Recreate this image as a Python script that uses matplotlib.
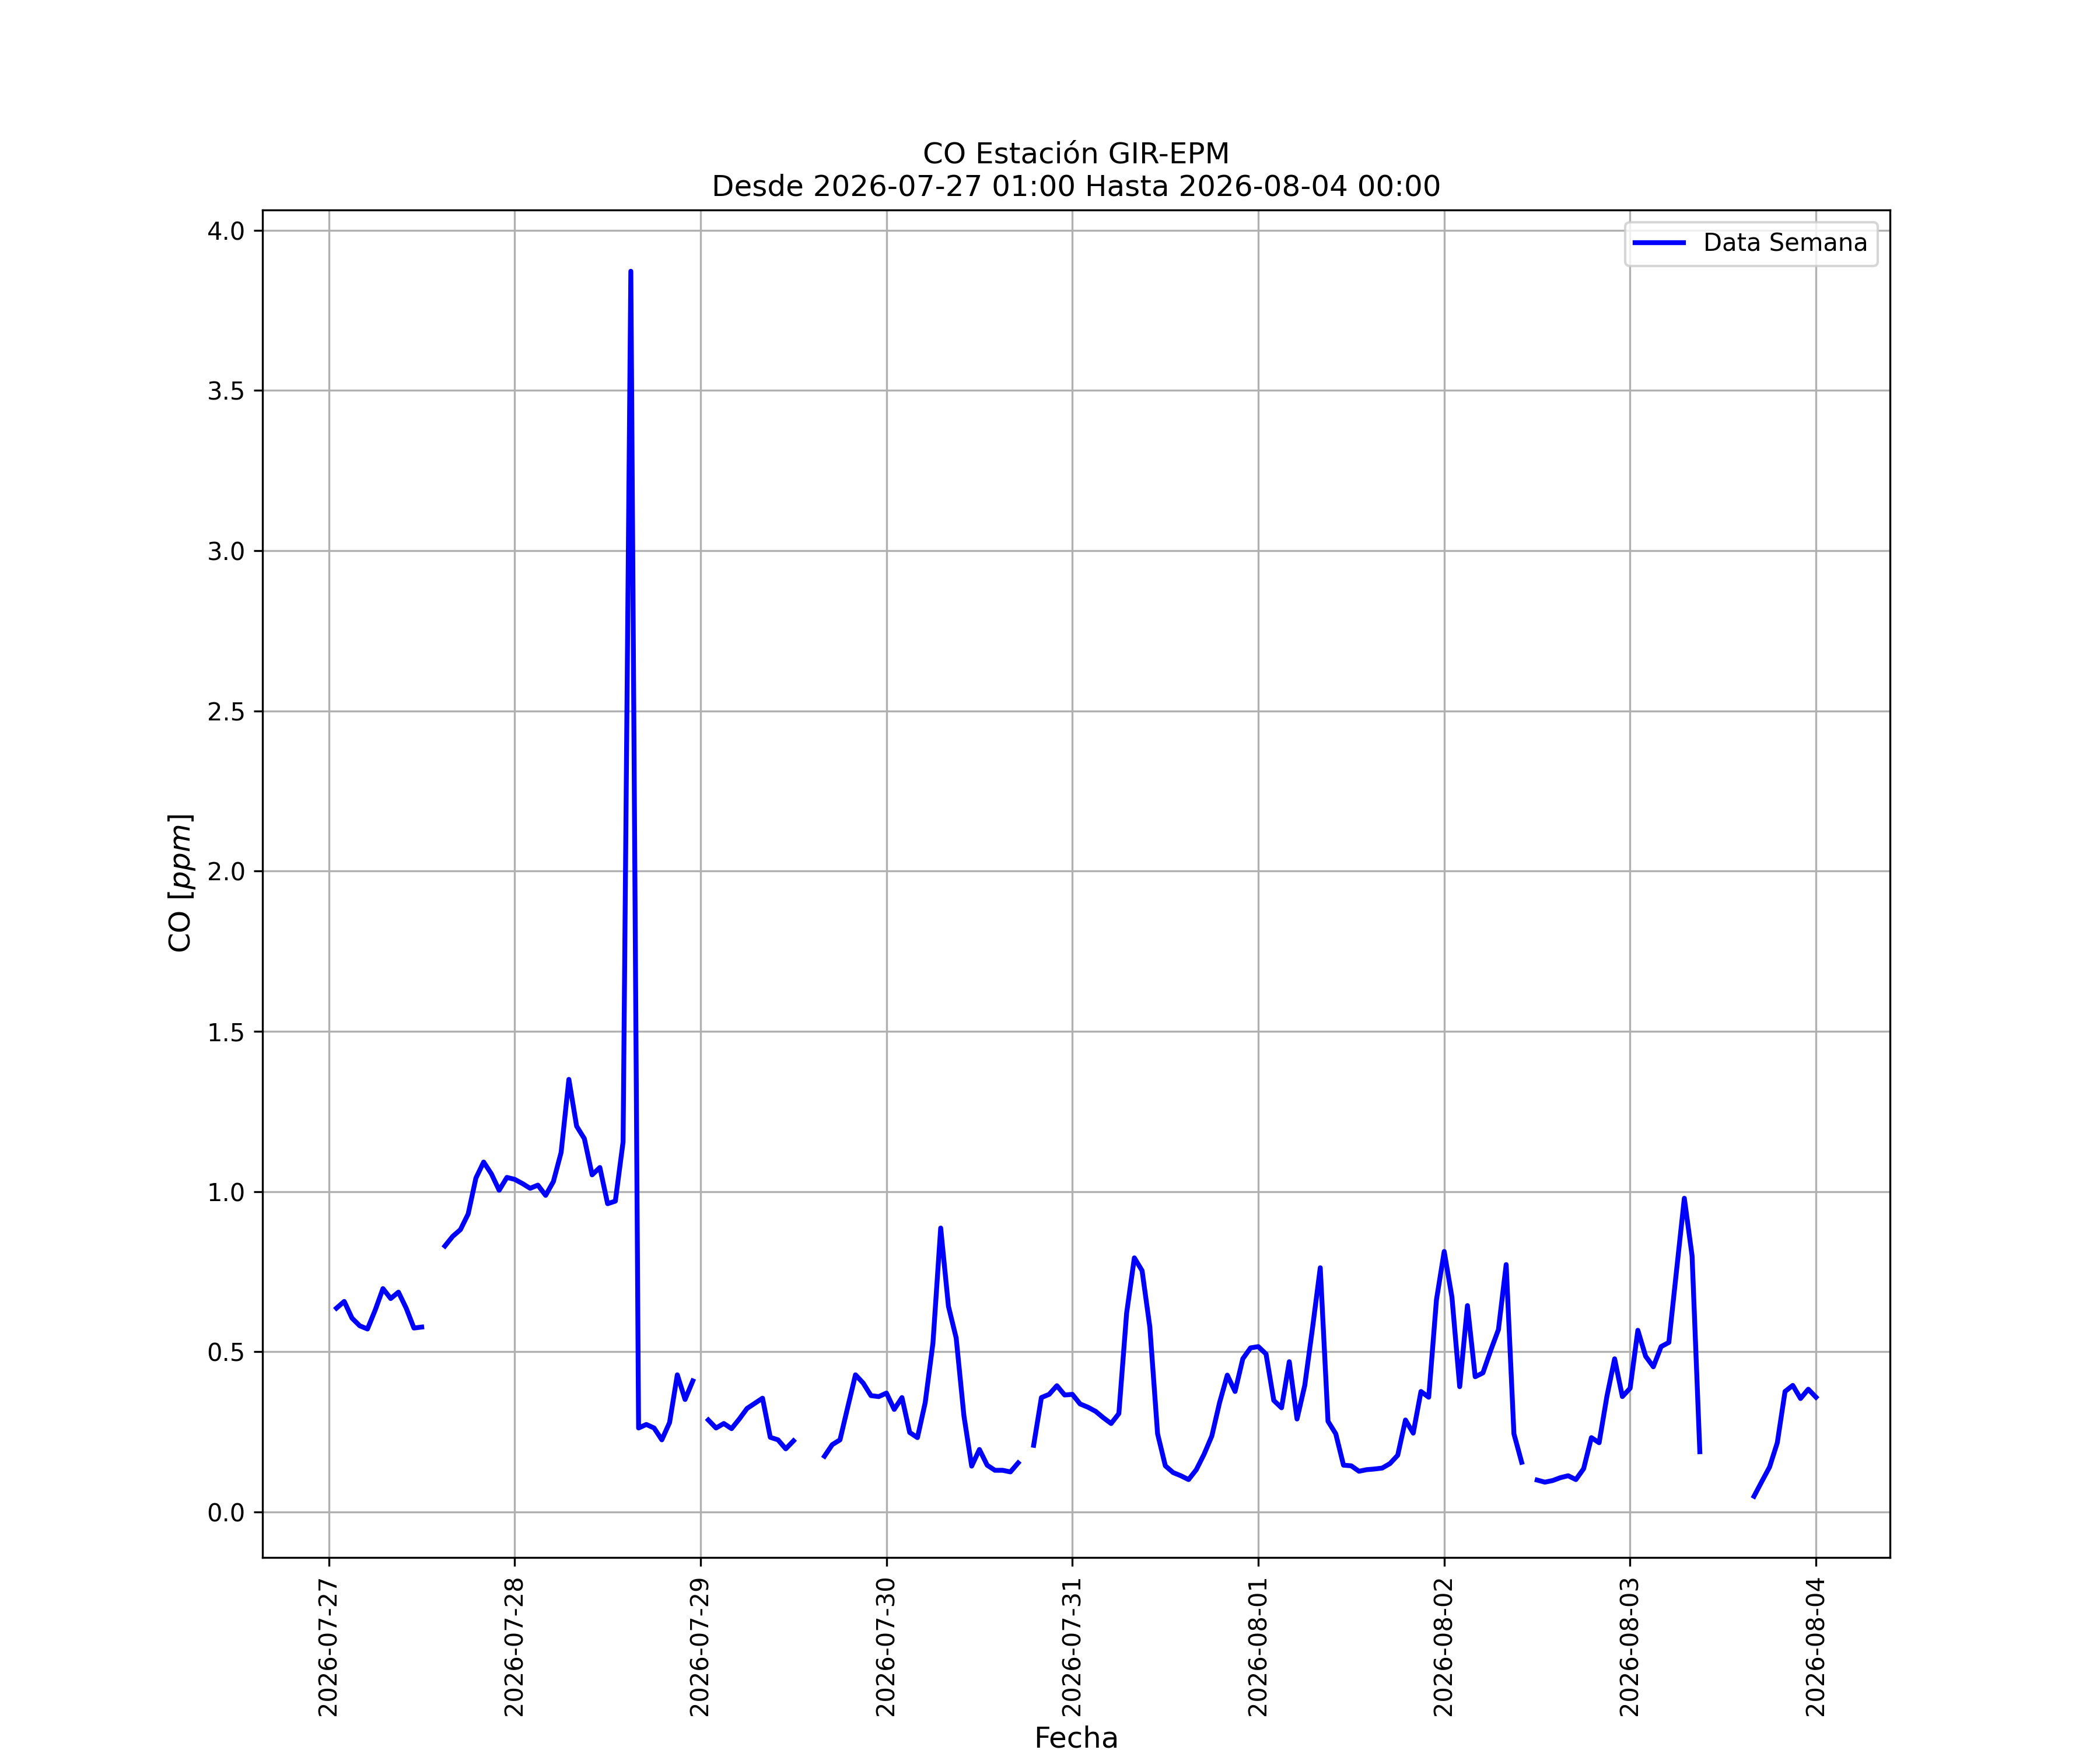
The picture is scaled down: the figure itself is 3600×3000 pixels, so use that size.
import numpy as np
import pandas as pd
import matplotlib
matplotlib.use('Agg')
import matplotlib.pyplot as plt
import matplotlib.dates as mdates

nan = np.nan

# hourly CO readings, 2026-07-27 01:00 .. 2026-08-04 00:00 (nan = no data)
fechas = pd.date_range('2026-07-27 01:00', '2026-08-04 00:00', freq='h')

co_dia1 = [0.636, 0.657, 0.605, 0.581, 0.571, 0.630, 0.697, 0.666, 0.686, 0.636, 0.574, 0.577,
           nan, nan, 0.830, 0.860, 0.881, 0.930, 1.042, 1.092, 1.055, 1.004, 1.044, 1.038]
co_dia2 = [1.025, 1.010, 1.020, 0.988, 1.031, 1.122, 1.350, 1.204, 1.165, 1.052, 1.075, 0.962,
           0.970, 1.155, 3.872, 0.262, 0.273, 0.262, 0.225, 0.279, 0.428, 0.351, 0.409, nan]
co_dia3 = [0.287, 0.262, 0.276, 0.260, 0.290, 0.323, 0.339, 0.355, 0.233, 0.225, 0.197, 0.222,
           nan, nan, nan, 0.174, 0.210, 0.225, 0.327, 0.428, 0.402, 0.363, 0.360, 0.371]
co_dia4 = [0.320, 0.357, 0.248, 0.232, 0.341, 0.527, 0.886, 0.642, 0.543, 0.300, 0.143, 0.195,
           0.146, 0.130, 0.130, 0.125, 0.153, nan, 0.208, 0.357, 0.367, 0.394, 0.365, 0.367]
co_dia5 = [0.337, 0.327, 0.314, 0.294, 0.276, 0.307, 0.620, 0.793, 0.753, 0.577, 0.244, 0.144,
           0.123, 0.113, 0.101, 0.132, 0.180, 0.237, 0.341, 0.427, 0.376, 0.478, 0.512, 0.516]
co_dia6 = [0.493, 0.348, 0.325, 0.469, 0.290, 0.395, 0.574, 0.762, 0.283, 0.244, 0.146, 0.144,
           0.127, 0.132, 0.134, 0.137, 0.151, 0.177, 0.287, 0.246, 0.376, 0.358, 0.662, 0.813]
co_dia7 = [0.670, 0.391, 0.644, 0.422, 0.434, 0.504, 0.569, 0.772, 0.244, 0.155, nan, 0.0995,
           0.093, 0.098, 0.107, 0.113, 0.101, 0.135, 0.232, 0.216, 0.360, 0.478, 0.360, 0.386]
co_dia8 = [0.567, 0.486, 0.453, 0.516, 0.529, 0.755, 0.979, 0.799, 0.188, nan, nan, nan,
           nan, nan, nan, 0.049, 0.095, 0.140, 0.216, 0.376, 0.395, 0.354, 0.383, 0.358]

co = np.array(co_dia1 + co_dia2 + co_dia3 + co_dia4 + co_dia5 + co_dia6 + co_dia7 + co_dia8)

titulo = 'CO Estación GIR-EPM\nDesde 2026-07-27 01:00 Hasta 2026-08-04 00:00'

fig, ax = plt.subplots(figsize=(12, 10))
ax.plot(fechas, co, color='blue', lw=2, label='Data Semana')

ax.set_title(titulo, fontsize=12)
ax.set_xlabel('Fecha', fontsize=12)
ax.set_ylabel('CO [$ppm$]', fontsize=12)
ax.xaxis.set_major_locator(mdates.DayLocator())
ax.xaxis.set_major_formatter(mdates.DateFormatter('%Y-%m-%d'))
plt.setp(ax.get_xticklabels(), rotation=90)
ax.grid(True)
ax.legend(loc='upper right')

fig.savefig('out.png', dpi=300)
